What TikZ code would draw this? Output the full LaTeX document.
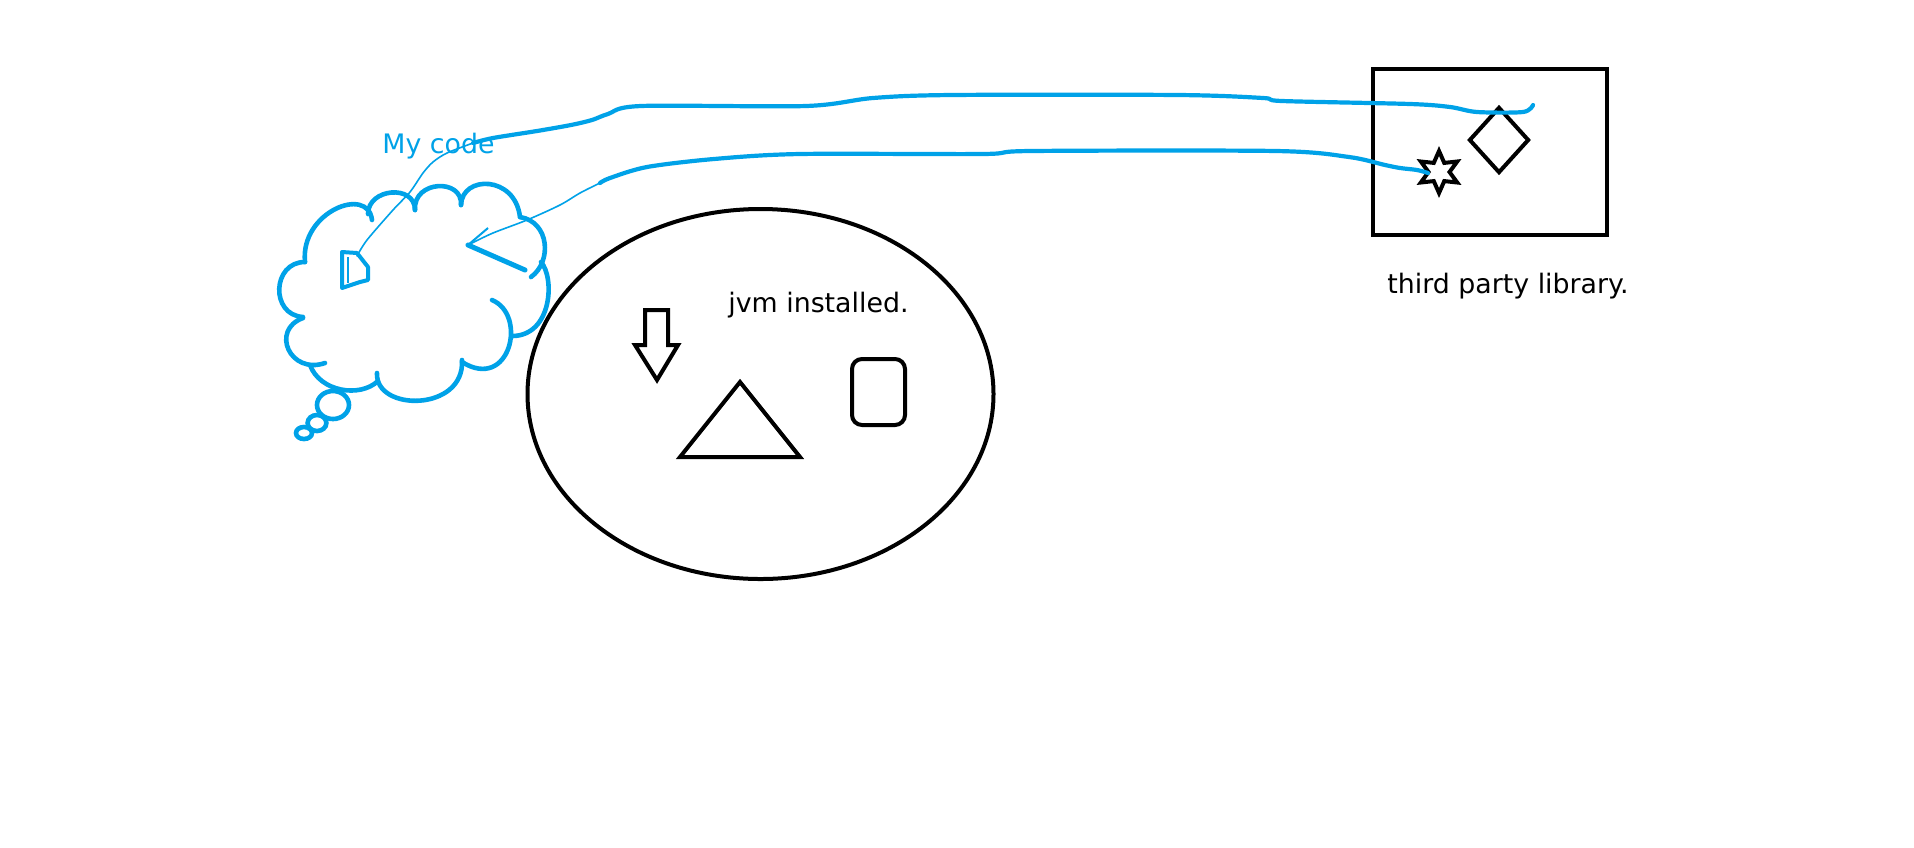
\documentclass[tikz,border=0pt]{standalone}
\usepackage{fontspec}
\setmainfont{DejaVu Sans}
\usetikzlibrary{shapes.geometric}
\definecolor{pblue}{RGB}{0,162,232}
\begin{document}
\begin{tikzpicture}[x=0.5pt,y=-0.5pt,
  blk/.style={draw=black,line width=2pt,line join=miter},
  cl/.style={draw=pblue,line width=2.3pt,line cap=round},
  bline/.style={draw=pblue,line width=2.1pt,line cap=round,line join=round},
  thinb/.style={draw=pblue,line width=0.8pt,line cap=round,line join=round},
  lbl/.style={font=\fontsize{13.4pt}{15pt}\selectfont,inner sep=0pt,anchor=base west}]
\fill[white] (0,0) rectangle (1914,847);
\useasboundingbox (0,0) rectangle (1914,847);

% JVM ellipse and its contents
\node[blk, ellipse, minimum width=233pt, minimum height=185pt, inner sep=0pt] (jvm) at (760.5,394) {};
\node[lbl] (jvmlabel) at (728,312) {jvm installed.};
\draw[blk] (645,310) -- (668,310) -- (668,345) -- (678,345) -- (657,380) -- (635,345) -- (645,345) -- cycle;
\draw[blk] (740,382) -- (800,457) -- (680,457) -- cycle;
\node[blk, rounded corners=5pt, minimum width=26.5pt, minimum height=33pt, inner sep=0pt] (rr) at (878.5,392) {};

% third party library
\node[blk, rectangle, minimum width=117pt, minimum height=83pt, inner sep=0pt] (lib) at (1490,152) {};
\node[lbl] (liblabel) at (1387,293) {third party library.};
\node[blk, diamond, minimum width=30pt, minimum height=33pt, inner sep=0pt] (dia) at (1499,140) {};
\node[blk, star, star points=6, star point ratio=2, minimum size=21pt, inner sep=0pt] (st) at (1439,172) {};

% cloud
\node[lbl, text=pblue] (codelabel) at (382,153) {My code};
\draw[cl] (303,317) .. controls (270,315) and (272,262) .. (305,262);
\draw[cl] (305,262) .. controls (300,212) and (368,185) .. (372,220);
\draw[cl] (368,214) .. controls (368,188) and (415,184) .. (415,210);
\draw[cl] (415,210) .. controls (413,180) and (463,178) .. (461,205);
\draw[cl] (461,205) .. controls (462,175) and (515,175) .. (520,217);
\draw[cl] (520,217) .. controls (550,222) and (552,262) .. (531,277);
\draw[cl] (541,262) .. controls (555,278) and (552,335) .. (513,336);
\draw[cl] (492,300) .. controls (528,315) and (510,392) .. (462,362);
\draw[cl] (462,360) .. controls (465,412) and (375,412) .. (377,373);
\draw[cl] (310,365) .. controls (320,392) and (360,398) .. (378,381);
\draw[cl] (325,363) .. controls (290,375) and (270,330) .. (303,318);
\draw[cl] (333,405) ellipse [x radius=8pt, y radius=7pt];
\draw[cl] (317,423) ellipse [x radius=4.7pt, y radius=4pt];
\draw[cl] (304,433) ellipse [x radius=4pt, y radius=3pt];

% scribbles inside the cloud
\draw[pblue, line width=2pt, line join=round] (342,252) -- (342,288) -- (360,282) -- (368,280) -- (368,267) -- (357,253) -- cycle;
\draw[pblue, line width=1.3pt] (348,257) -- (348,283);
\draw[pblue, line width=2.5pt, line cap=round] (468,245) -- (525,270);
\draw[pblue, line width=1pt] (468,245) -- (488,228);

\coordinate (codeA) at (357,256);
\coordinate (codeB) at (470,244);
\coordinate (libA) at (1533,105);
\coordinate (libB) at (1428,173);

% connectors
\draw[thinb] plot[smooth] coordinates {(codeA) (367,240) (393,210) (410,192) (423,173) (433,162) (447,153) (473,143)};
\draw[bline] plot[smooth] coordinates {(473,143) (493,138) (537,131) (571,125) (592,120) (608,114) (641,106) (806,106) (873,98) (952,95) (1178,95) (1263,98) (1282,101) (1410,104) (1450,107) (1477,112) (1523,112) (libA)};
\draw[thinb] plot[smooth] coordinates {(codeB) (493,233) (527,220) (560,205) (580,193) (600,183)};
\draw[bline] plot[smooth] coordinates {(600,183) (610,178) (647,167) (714,159) (800,154) (983,154) (1031,151) (1276,151) (1349,157) (1385,165) (1400,168) (1417,170) (libB)};
\end{tikzpicture}
\end{document}
